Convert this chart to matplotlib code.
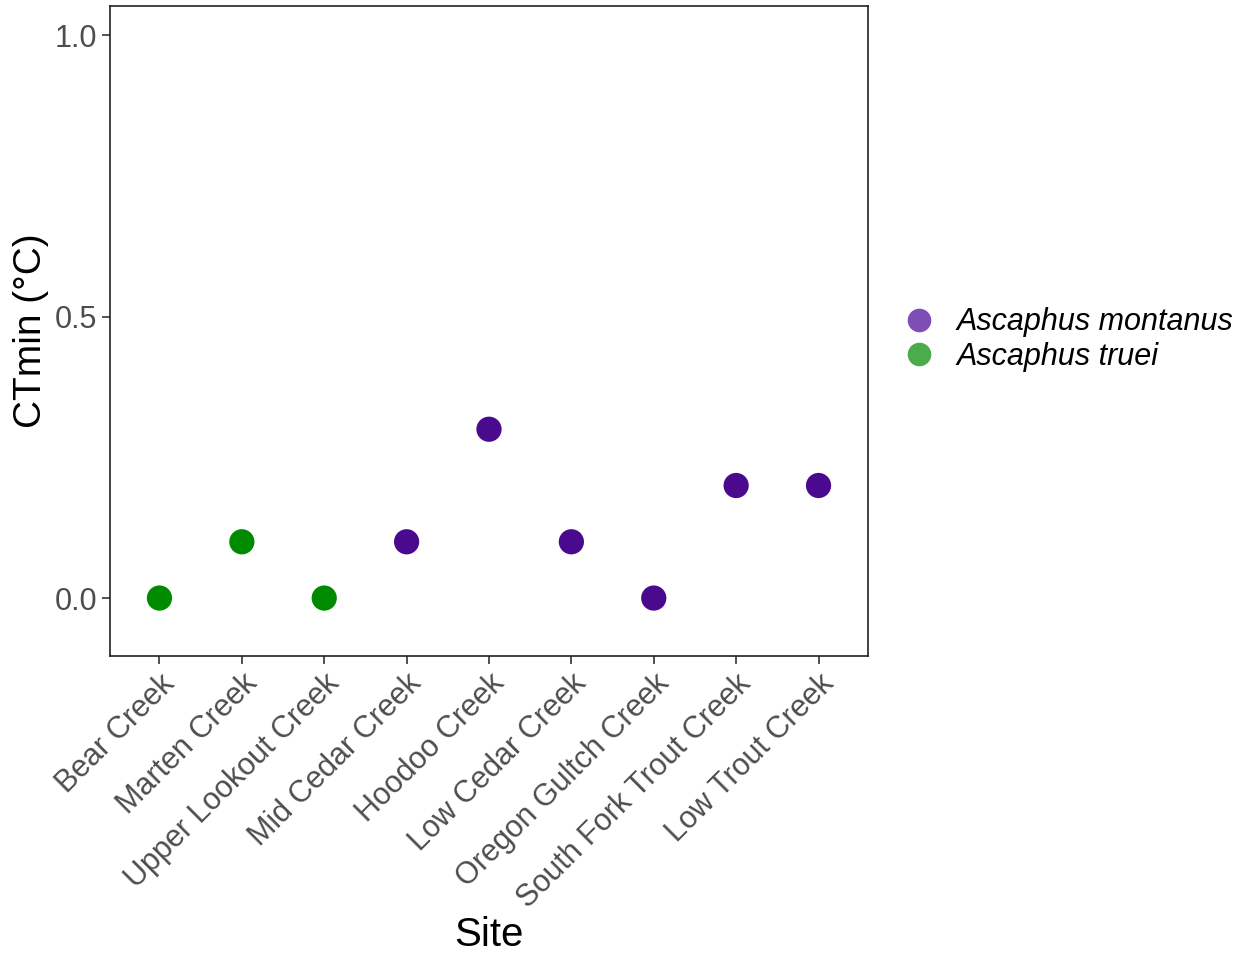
import matplotlib.pyplot as plt
from matplotlib.lines import Line2D

plt.rcParams['font.family'] = ['Liberation Sans', 'DejaVu Sans']

sites = ["Bear Creek", "Marten Creek", "Upper Lookout Creek", "Mid Cedar Creek",
         "Hoodoo Creek", "Low Cedar Creek", "Oregon Gultch Creek",
         "South Fork Trout Creek", "Low Trout Creek"]
species = ["Ascaphus truei", "Ascaphus truei", "Ascaphus truei",
           "Ascaphus montanus", "Ascaphus montanus", "Ascaphus montanus",
           "Ascaphus montanus", "Ascaphus montanus", "Ascaphus montanus"]
ctmin = [0.0, 0.1, 0.0, 0.1, 0.3, 0.1, 0.0, 0.2, 0.2]

point_colors = {"Ascaphus montanus": "#4a0a8e", "Ascaphus truei": "#008a00"}
legend_colors = {"Ascaphus montanus": "#7e4db6", "Ascaphus truei": "#4cac4c"}

fig = plt.figure(figsize=(12.46, 9.57), dpi=100)
ax = fig.add_axes([0.0883, 0.3145, 0.6083, 0.6792])

x = list(range(len(sites)))
ax.scatter(x, ctmin, s=330, c=[point_colors[s] for s in species],
           edgecolors='none', zorder=3)

ax.set_xlim(-0.6, len(sites) - 0.4)
ax.set_ylim(-0.103, 1.052)
ax.set_yticks([0.0, 0.5, 1.0])
ax.set_yticklabels(["0.0", "0.5", "1.0"])
ax.set_xticks(x)
ax.set_xticklabels(sites, rotation=45, ha='right', va='top',
                   rotation_mode='anchor')

ax.tick_params(axis='both', labelsize=22, labelcolor='#4d4d4d',
               length=6, width=1.2, color='#333333', pad=3)
for sp in ax.spines.values():
    sp.set_linewidth(1.2)
    sp.set_color('#222222')

ax.set_xlabel("Site", fontsize=29, labelpad=2)
ax.set_ylabel("CTmin (°C)", fontsize=28, labelpad=4)

handles = [Line2D([], [], marker='o', linestyle='none', markersize=17,
                  markerfacecolor=legend_colors[k], markeredgecolor='none',
                  label=k)
           for k in ["Ascaphus montanus", "Ascaphus truei"]]
leg = fig.legend(handles=handles, loc='center left',
                 bbox_to_anchor=(0.72, 0.645), frameon=False,
                 prop={'size': 22, 'style': 'italic'}, handletextpad=0.75,
                 labelspacing=0.15, handlelength=1.0, borderaxespad=0,
                 borderpad=0.2)

fig.savefig("out.png", dpi=100)
